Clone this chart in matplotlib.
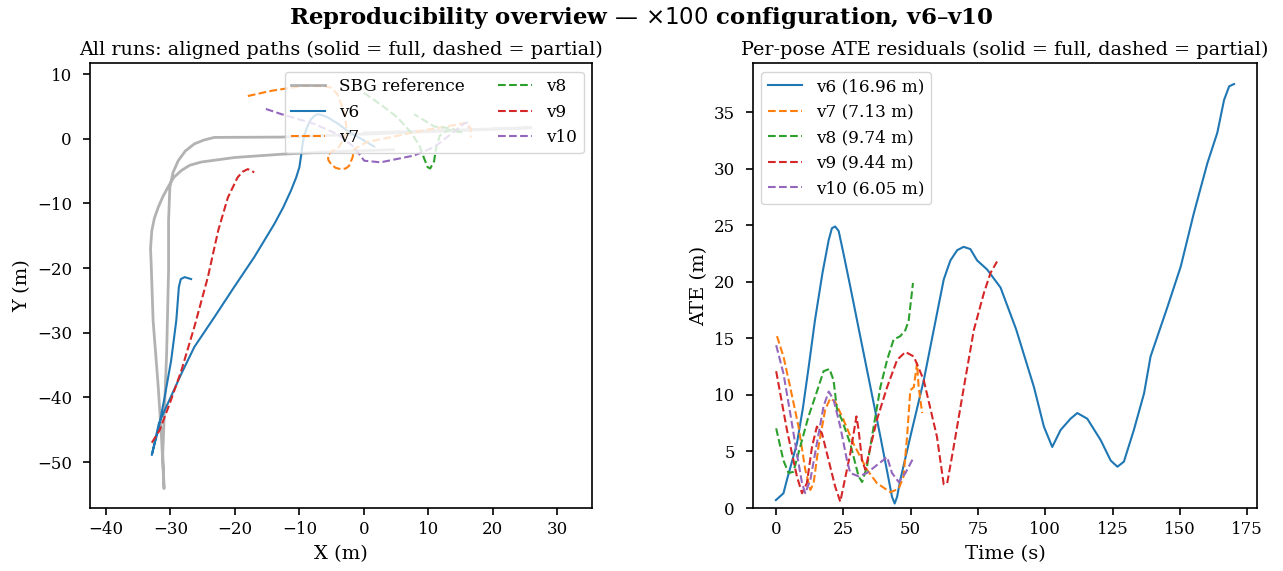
import matplotlib
matplotlib.use("Agg")
import matplotlib.pyplot as plt

plt.rcParams['font.family'] = ['DejaVu Serif']
plt.rcParams['mathtext.fontset'] = 'dejavusans'

# ---- left panel: aligned XY paths (m) ----
ref_x = [4.6, -5.0, -12.8, -20.0, -25.2, -27.0, -28.3, -29.5, -30.4, -31.2, -31.9, -32.5, -32.9,
         -33.1, -33.0, -32.7, -31.9, -31.4, -31.0,
         -31.2, -30.6, -30.3, -30.3, -30.1, -29.6, -28.8, -27.7, -26.3, -24.8, -23.2, -12.8,
         0.0, 13.0, 26.0, 13.0, 0.0]
ref_y = [-1.7, -2.0, -2.4, -2.9, -3.6, -4.1, -4.9, -6.0, -7.5, -9.0, -10.6, -12.3, -14.2,
         -17.0, -19.3, -28.1, -38.4, -46.1, -54.1,
         -48.7, -33.2, -20.4, -12.7, -7.5, -5.2, -3.4, -1.9, -0.8, -0.2, 0.2, 0.25,
         0.7, 1.2, 1.7, 1.3, 0.9]

v6_x = [-26.8, -27.8, -28.4, -28.7, -29.1, -29.9, -30.9, -31.8, -32.9, -31.8, -30.4, -28.3, -26.3,
        -23.2, -20.1, -17.0, -13.9, -12.5, -11.3, -10.5, -10.0, -9.7, -9.5, -9.2, -8.7, -8.2,
        -7.6, -7.2, -6.6, -5.6, -4.0, -2.5, 0.05, 1.6]
v6_y = [-21.7, -21.4, -21.7, -22.9, -28.1, -34.3, -39.9, -44.6, -48.9, -44.0, -40.9, -36.3, -32.2,
        -27.6, -22.9, -18.3, -13.2, -10.6, -8.0, -6.0, -4.4, -2.4, -0.8, 0.7, 2.0, 3.0,
        3.6, 3.8, 3.7, 3.3, 2.3, 1.2, -0.3, -1.2]

v7_x = [-18.0, -14.4, -9.2, -6.0, -5.1, -4.1, -3.0, -2.6, -3.8, -5.6, -5.5, -5.1, -4.4, -3.6,
        -2.8, -2.3, -1.75, -1.5, 0.5, 4.5, 8.8, 13.5, 16.0, 16.6, 16.6]
v7_y = [6.6, 7.4, 8.2, 8.1, 7.9, 6.9, 4.0, 1.0, -1.2, -2.5, -3.3, -3.9, -4.5, -4.7,
        -4.6, -4.2, -2.9, -1.6, -0.5, 0.3, 1.2, 2.0, 2.5, 1.5, 0.2]

v8_x = [0.0, 3.0, 5.2, 7.3, 8.6, 9.3, 9.9, 10.3, 10.9, 11.2, 11.8, 13.0, 15.3, 13.5, 10.9, 7.8]
v8_y = [7.1, 5.0, 3.3, 1.0, -1.0, -2.9, -4.4, -4.6, -3.5, -1.5, 0.5, 1.3, 1.0, 1.6, 1.9, 3.8]

v9_x = [-32.9, -31.7, -30.1, -28.3, -26.3, -24.2, -22.6, -21.1, -19.6, -18.8, -18.0, -17.0]
v9_y = [-47.0, -45.1, -40.9, -35.8, -29.1, -21.4, -14.2, -9.1, -6.0, -5.1, -4.7, -5.2]

v10_x = [-15.2, -12.8, -7.7, -4.1, -1.5, 0.05, 2.6, 7.8, 10.9, 13.5, 15.5, 16.0, 16.2]
v10_y = [4.6, 3.8, 2.3, 0.7, -1.3, -3.4, -3.65, -2.6, -1.3, 0.7, 2.3, 2.5, 1.7]

# ---- right panel: per-pose ATE (m) vs time (s) ----
v6_t = [0.0, 2.8, 4.1, 5.5, 7.8, 10.0, 12.3, 14.5, 17.3, 19.6, 20.8, 22.0, 23.3, 25.1, 27.6,
        31.3, 35.1, 38.8, 41.9, 43.1, 44.1, 45.0, 46.2, 49.9, 54.9, 58.6, 62.3, 63.6, 64.8,
        67.3, 69.7, 72.2, 74.7, 78.4, 83.4, 89.2, 95.8, 99.5, 102.6, 105.7, 109.4, 111.9,
        115.6, 120.6, 124.3, 126.8, 129.2, 132.9, 136.7, 139.1, 145.4, 150.3, 155.2, 160.2,
        163.9, 166.4, 168.3, 170.1]
v6_e = [0.7, 1.3, 2.5, 3.7, 5.7, 8.8, 12.7, 16.6, 20.8, 23.7, 24.75, 24.9, 24.5, 22.5, 19.6,
        15.2, 10.7, 6.3, 2.5, 1.0, 0.4, 1.0, 2.5, 6.3, 11.3, 15.75, 20.2, 21.1, 21.9,
        22.8, 23.1, 22.9, 21.9, 21.1, 19.5, 15.8, 10.7, 7.2, 5.4, 6.9, 7.9, 8.4,
        7.9, 6.0, 4.2, 3.65, 4.1, 6.9, 10.15, 13.4, 17.8, 21.35, 26.1, 30.5,
        33.2, 36.1, 37.3, 37.5]

v7_t = [0.4, 2.8, 5.3, 8.4, 10.9, 12.8, 14.0, 15.8, 18.3, 20.2, 22.0, 25.1, 28.8, 33.8,
        37.5, 42.5, 45.6, 47.4, 48.7, 49.9, 51.2, 52.4, 53.0, 54.3]
v7_e = [15.2, 13.4, 10.7, 7.2, 3.4, 1.6, 2.2, 5.4, 8.7, 9.7, 9.4, 7.8, 5.7, 3.4,
        2.2, 1.4, 1.7, 2.8, 6.3, 10.4, 10.7, 12.8, 10.7, 8.4]

v8_t = [0.1, 2.8, 4.7, 6.5, 9.0, 12.1, 14.6, 17.7, 19.9, 21.4, 22.7, 24.5, 27.6, 30.7, 32.0,
        33.8, 36.3, 38.8, 41.3, 43.7, 46.2, 48.1, 49.3, 50.9]
v8_e = [7.05, 4.2, 3.1, 3.2, 5.4, 8.1, 9.85, 12.1, 12.3, 11.3, 8.7, 7.8, 5.7, 2.8, 2.3,
        3.65, 7.2, 10.7, 13.1, 14.9, 15.2, 15.75, 16.6, 19.9]

v9_t = [0.1, 4.1, 7.8, 9.7, 11.5, 13.4, 15.2, 17.1, 19.6, 22.0, 23.9, 27.6, 29.9, 30.7, 32.0,
        33.2, 35.1, 37.5, 41.3, 45.0, 48.1, 51.2, 54.9, 59.8, 62.3, 63.6, 66.0, 69.8, 73.5,
        77.2, 79.7, 82.1]
v9_e = [12.1, 6.9, 2.8, 1.3, 2.2, 5.4, 7.2, 6.6, 4.2, 1.9, 0.56, 4.8, 8.1, 6.9, 4.2,
        3.4, 5.4, 7.8, 10.7, 13.1, 13.8, 13.4, 11.3, 6.3, 2.1, 2.2, 5.4, 10.7, 15.75,
        19.0, 20.8, 21.8]

v10_t = [0.1, 2.8, 5.3, 7.8, 9.7, 10.9, 12.8, 15.2, 17.7, 19.6, 21.4, 23.9, 26.4, 27.6, 30.7,
         33.8, 37.5, 41.3, 43.1, 45.6, 48.1, 51.2]
v10_e = [14.4, 11.9, 8.4, 4.8, 2.2, 1.3, 2.5, 5.7, 9.0, 10.3, 9.6, 7.2, 4.2, 3.1, 2.8,
         3.1, 3.8, 4.5, 3.1, 2.3, 3.1, 4.5]

mean_ate = {'v6': 16.96, 'v7': 7.13, 'v8': 9.74, 'v9': 9.44, 'v10': 6.05}

fig = plt.figure(figsize=(12.83, 5.71), dpi=100)
ax1 = fig.add_axes([0.0701, 0.1103, 0.3913, 0.7793])
ax2 = fig.add_axes([0.5869, 0.1103, 0.3928, 0.7793])

ax1.plot(ref_x, ref_y, color='gray', alpha=0.6, lw=2.0, label='SBG reference')
ax1.plot(v6_x, v6_y, color='C0', lw=1.5, label='v6')
ax1.plot(v7_x, v7_y, color='C1', lw=1.5, ls='--', label='v7')
ax1.plot(v8_x, v8_y, color='C2', lw=1.5, ls='--', label='v8')
ax1.plot(v9_x, v9_y, color='C3', lw=1.5, ls='--', label='v9')
ax1.plot(v10_x, v10_y, color='C4', lw=1.5, ls='--', label='v10')
ax1.set_xlim(-42.5, 35.4)
ax1.set_ylim(-57.1, 11.7)
ax1.set_xlabel('X (m)', fontsize=14, labelpad=5)
ax1.set_ylabel('Y (m)', fontsize=14)
ax1.set_title('All runs: aligned paths (solid = full, dashed = partial)', fontsize=13.8)
ax1.legend(loc='upper right', ncol=2, fontsize=12.2)

ax2.plot(v6_t, v6_e, color='C0', lw=1.5, label=f"v6 ({mean_ate['v6']:.2f} m)")
ax2.plot(v7_t, v7_e, color='C1', lw=1.5, ls='--', label=f"v7 ({mean_ate['v7']:.2f} m)")
ax2.plot(v8_t, v8_e, color='C2', lw=1.5, ls='--', label=f"v8 ({mean_ate['v8']:.2f} m)")
ax2.plot(v9_t, v9_e, color='C3', lw=1.5, ls='--', label=f"v9 ({mean_ate['v9']:.2f} m)")
ax2.plot(v10_t, v10_e, color='C4', lw=1.5, ls='--', label=f"v10 ({mean_ate['v10']:.2f} m)")
ax2.set_ylim(bottom=0)
ax2.set_xlabel('Time (s)', fontsize=14, labelpad=5)
ax2.set_ylabel('ATE (m)', fontsize=14)
ax2.set_title('Per-pose ATE residuals (solid = full, dashed = partial)', fontsize=13.8)
ax2.legend(loc='upper left', fontsize=12.2)

for ax in (ax1, ax2):
    ax.tick_params(labelsize=12, length=5, width=1.2)
    ax.tick_params(axis='x', pad=4.5)
    ax.tick_params(axis='y', pad=8)
    for s in ax.spines.values():
        s.set_linewidth(1.2)

fig.suptitle(r'Reproducibility overview — $\times100$ configuration, v6–v10',
             fontsize=16.5, fontweight='bold', y=0.992)

fig.savefig('out.png', dpi=100)
